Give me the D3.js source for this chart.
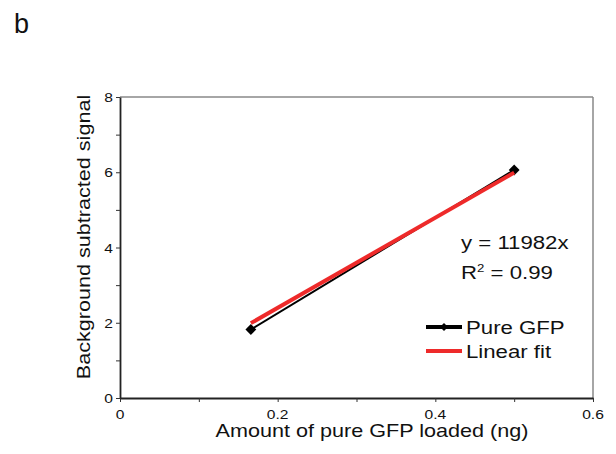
<!DOCTYPE html>
<html>
<head>
<meta charset="utf-8">
<script src="https://cdn.jsdelivr.net/npm/d3@7"></script>
<style>
  body { margin: 0; background: #fff; }
  text { font-family: "Liberation Sans", Arial, sans-serif; }
</style>
</head>
<body>
<div id="chart"></div>
<script>
// measured points
var amountNg = [0.166, 0.5];
var signal = [1.82, 6.06];
// linear fit line (y = 11982x), end points
var fitX = [0.166, 0.5];
var fitY = [1.99, 5.99];
var xTicks = [0, 0.1, 0.2, 0.3, 0.4, 0.5, 0.6];
var yTicks = [0, 1, 2, 3, 4, 5, 6, 7, 8];
var seriesNames = ["Pure GFP", "Linear fit"];

var width = 616, height = 454;
var margin = {left: 120, right: 23, top: 97, bottom: 56};
// the lettering in the picture is a bit wider than Arial
var stretch = 1.2;

var svg = d3.select("#chart").append("svg")
  .attr("width", width)
  .attr("height", height);

var x = d3.scaleLinear().domain([0, 0.6]).range([margin.left, width - margin.right]);
var y = d3.scaleLinear().domain([0, 8]).range([height - margin.bottom, margin.top]);

function label(parent, px, py, size, str, anchor, rotate) {
  return parent.append("text")
    .attr("transform", `translate(${px}, ${py})` + (rotate ? ` rotate(${rotate})` : "") + ` scale(${stretch}, 1)`)
    .attr("text-anchor", anchor || "start")
    .attr("font-size", size)
    .attr("fill", "#111")
    .text(str);
}

// gray frame on top and right
svg.append("line")
  .attr("x1", x(0)).attr("x2", x(0.6))
  .attr("y1", y(8)).attr("y2", y(8))
  .attr("stroke", "#888").attr("stroke-width", 1.5);
svg.append("line")
  .attr("x1", x(0.6)).attr("x2", x(0.6))
  .attr("y1", y(8)).attr("y2", y(0))
  .attr("stroke", "#888").attr("stroke-width", 1.5);

var xAxis = svg.append("g")
  .attr("transform", `translate(0, ${y(0)})`)
  .call(d3.axisBottom(x).tickValues(xTicks).tickSize(4).tickSizeOuter(0).tickFormat(""));

var yAxis = svg.append("g")
  .attr("transform", `translate(${x(0)}, 0)`)
  .call(d3.axisLeft(y).tickValues(yTicks).tickSize(4).tickSizeOuter(0).tickFormat(""));

[xAxis, yAxis].forEach(function(ax) {
  ax.select(".domain").attr("stroke", "#222").attr("stroke-width", 1.8);
  ax.selectAll(".tick line").attr("stroke", "#333").attr("stroke-width", 1);
});

// tick labels
xTicks.filter((d, i) => i % 2 === 0).forEach(function(d) {
  label(svg, x(d), y(0) + 21, 13, d === 0 ? "0" : d3.format(".1f")(d), "middle");
});
yTicks.filter(d => d % 2 === 0).forEach(function(d) {
  label(svg, x(0) - 7, y(d) + 5, 13, String(d), "end");
});

// data series
var pts = amountNg.map((d, i) => ({x: d, y: signal[i]}));
var fit = fitX.map((d, i) => ({x: d, y: fitY[i]}));
var line = d3.line().x(d => x(d.x)).y(d => y(d.y));

svg.append("path")
  .datum(pts)
  .attr("d", line)
  .attr("fill", "none")
  .attr("stroke", "#000")
  .attr("stroke-width", 2);

var diamond = d3.symbol().type(d3.symbolDiamond2).size(75);
svg.selectAll(".pt").data(pts).enter()
  .append("path")
  .attr("class", "pt")
  .attr("d", diamond)
  .attr("transform", d => `translate(${x(d.x)}, ${y(d.y)})`)
  .attr("fill", "#000");

svg.append("path")
  .datum(fit)
  .attr("d", line)
  .attr("fill", "none")
  .attr("stroke", "#ee2a2a")
  .attr("stroke-width", 4);

// equation
label(svg, 461, 249, 18.5, "y = 11982x");
var r2 = label(svg, 461, 279, 18.5, "");
r2.append("tspan").text("R");
r2.append("tspan").attr("font-size", 11).attr("dy", -7).text("2");
r2.append("tspan").attr("dy", 7).text(" = 0.99");

// legend
var legend = svg.append("g").attr("transform", "translate(426, 327)");
legend.append("line")
  .attr("x1", 0).attr("x2", 36).attr("y1", 0).attr("y2", 0)
  .attr("stroke", "#000").attr("stroke-width", 4);
legend.append("path")
  .attr("d", d3.symbol().type(d3.symbolDiamond2).size(40))
  .attr("transform", "translate(18, 0)")
  .attr("fill", "#000");
legend.append("line")
  .attr("x1", 0).attr("x2", 36).attr("y1", 24).attr("y2", 24)
  .attr("stroke", "#ee2a2a").attr("stroke-width", 4);
seriesNames.forEach(function(d, i) {
  label(legend, 40, i * 24 + 7, 18.5, d);
});

// axis titles
label(svg, 372, 437, 18, "Amount of pure GFP loaded (ng)", "middle");
label(svg, 90, 237, 18, "Background subtracted signal", "middle", -90);

// panel letter
svg.append("text")
  .attr("x", 14).attr("y", 33)
  .attr("font-size", 27)
  .attr("fill", "#111")
  .text("b");
</script>
</body>
</html>
